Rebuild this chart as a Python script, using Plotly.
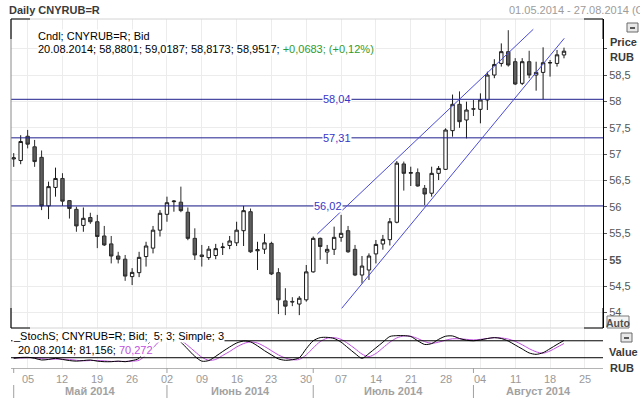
import plotly.graph_objects as go
import pandas as pd
import numpy as np

# ---------------- data ----------------
axis_dates = pd.bdate_range("2014-05-01", "2014-08-27")   # trading-day axis 01.05 - 27.08
n_data = 80                                               # candles 01.05 - 20.08

open_ = [56.91, 56.88, 57.34, 57.14, 56.94, 56.02, 56.37, 56.54, 56.12, 55.955,
         55.65, 55.80, 55.72, 55.45, 55.30, 55.07, 55.01, 54.68, 54.755, 55.06,
         55.22, 55.56, 55.86, 56.10, 56.09, 55.90, 55.405, 55.09, 55.04, 55.08,
         55.23, 55.27, 55.32, 55.55, 55.91, 55.17, 55.20, 55.31, 54.755, 54.22,
         54.21, 54.16, 54.24, 54.77, 55.405, 55.146, 55.197, 55.424, 55.55, 55.197,
         54.71, 54.805, 55.11, 55.298, 55.38, 55.71, 56.815, 56.64, 56.65, 56.353,
         56.26, 56.637, 56.713, 57.446, 57.945, 57.648, 57.86, 57.85, 58.027, 58.50,
         58.72, 58.943, 58.753, 58.343, 58.753, 58.50, 58.55, 58.73, 58.72, 58.8801]
high = [57.02, 57.36, 57.46, 57.27, 57.07, 56.48, 56.745, 56.64, 56.13, 56.005,
        55.99, 55.89, 55.85, 55.64, 55.45, 55.15, 55.09, 54.84, 55.15, 55.34,
        55.64, 55.94, 56.195, 56.13, 56.385, 55.99, 55.595, 55.28, 55.26, 55.30,
        55.32, 55.45, 55.72, 56.02, 55.97, 55.34, 55.49, 55.34, 54.84, 54.46,
        54.29, 54.31, 54.90, 55.44, 55.42, 55.28, 55.627, 55.85, 55.64, 55.28,
        55.07, 55.12, 55.374, 55.47, 55.79, 56.87, 56.86, 56.763, 56.73, 56.416,
        56.763, 56.776, 57.49, 58.13, 58.19, 57.995, 58.027, 58.153, 58.564, 58.80,
        59.10, 59.35, 58.82, 58.82, 58.96, 58.753, 59.025, 58.785, 58.975, 59.0187]
low = [56.76, 56.81, 57.11, 56.76, 55.94, 55.77, 56.195, 56.02, 55.78, 55.53,
       55.53, 55.68, 55.22, 55.26, 54.93, 54.93, 54.60, 54.52, 54.67, 54.87,
       55.12, 55.44, 55.72, 55.91, 55.90, 55.37, 54.995, 54.87, 54.995, 55.01,
       55.09, 55.20, 55.26, 55.26, 55.13, 54.805, 55.11, 54.71, 53.97, 53.95,
       54.12, 53.95, 54.205, 54.755, 55.00, 54.92, 55.09, 55.34, 55.13, 54.69,
       54.55, 54.616, 54.93, 55.19, 55.27, 55.69, 56.31, 56.397, 56.385, 56.037,
       56.195, 56.51, 56.70, 57.332, 57.50, 57.30, 57.724, 57.585, 57.837, 58.44,
       58.66, 58.66, 58.31, 58.31, 58.44, 58.204, 58.04, 58.47, 58.66, 58.8173]
close = [56.93, 57.24, 57.19, 56.86, 56.02, 56.385, 56.54, 56.11, 55.97, 55.64,
         55.785, 55.72, 55.44, 55.28, 55.07, 55.01, 54.69, 54.76, 55.045, 55.26,
         55.56, 55.88, 56.08, 56.11, 55.93, 55.405, 55.09, 55.06, 55.20, 55.21,
         55.24, 55.355, 55.56, 55.93, 55.15, 55.19, 55.32, 54.73, 54.24, 54.12,
         54.20, 54.27, 54.77, 55.405, 55.25, 55.197, 55.424, 55.50, 55.15, 54.71,
         54.88, 55.07, 55.29, 55.386, 55.72, 56.83, 56.637, 56.65, 56.397, 56.245,
         56.637, 56.73, 57.458, 57.945, 57.616, 57.837, 57.855, 58.027, 58.50, 58.70,
         58.943, 58.69, 58.33, 58.753, 58.50, 58.55, 58.734, 58.735, 58.8834, 58.9517]

stoch_k = [18, 21, 22, 18, 12, 14, 18, 14, 10, 8, 10, 12, 8, 6, 6, 8, 6, 10, 18,
           60, 85, 95, 97, 93, 75, 50, 25, 8,
           10, 25, 42, 58, 72, 79, 76, 62, 45, 30, 16, 11, 13, 20,
           52, 80, 91, 92, 88, 75, 55, 35, 18,
           35, 55, 75, 95, 98, 98, 95, 80, 67, 70,
           85, 96, 97, 88, 82, 80, 83, 88, 91, 88,
           79, 65, 51, 37, 32, 38, 52, 67, 81.156]
stoch_d = [20, 19, 20, 20, 17, 15, 15, 15, 14, 11, 9, 10, 10, 9, 7, 7, 7, 8, 11,
           30, 55, 80, 92, 95, 82, 63, 42, 22,
           11, 14, 28, 42, 58, 70, 76, 72, 60, 45, 30, 19, 13, 14,
           30, 55, 77, 89, 91, 85, 70, 52, 33,
           24, 35, 55, 75, 90, 97, 96, 88, 77, 71,
           75, 82, 87, 87, 85, 83, 85, 88, 91, 90,
           86, 78, 66, 52, 41, 36, 44, 57, 70.272]
stoch_levels = [80, 20]

levels = [58.04, 57.31, 56.02]
# drawn channel lines: (trading-day index, price) endpoints
channel_upper = [(43.58, 55.487), (74.59, 59.367)]
channel_lower = [(47.09, 54.079), (79.04, 59.196)]

price_ticks = [54, 54.5, 55, 55.5, 56, 56.5, 57, 57.5, 58, 58.5, 59]
month_names = ["Май 2014", "Июнь 2014", "Июль 2014", "Август 2014"]

# ---------------- geometry ----------------
W, H = 640, 398
ML, MR, MT, MB = 11, 37, 19, 30
XR = [-0.39, 84.6]
YR = [53.706, 59.562]
SR = [-16.3, 121.6]


def px(x):
    return (x - ML) / (W - ML - MR)


def py(y):
    return (H - MB - y) / (H - MT - MB)


def xi(i):
    return (i - XR[0]) / (XR[1] - XR[0])


idx = np.arange(n_data)
mondays = [i for i, d in enumerate(axis_dates) if d.weekday() == 0]
monday_txt = [axis_dates[i].strftime("%d") for i in mondays]
month_start = [i for i, d in enumerate(axis_dates) if i == 0 or d.month != axis_dates[i - 1].month]

FONT = "Liberation Sans, Arial, sans-serif"


def fmt(v, nd):
    return f"{v:.{nd}f}".replace(".", ",")


def tick_text(v):
    if v == 59:
        return ""
    s = fmt(v, 1).replace(",0", "")
    return "<b>55</b>" if v == 55 else s


fig = go.Figure()
fig.add_trace(go.Candlestick(
    x=idx, open=open_[:n_data], high=high[:n_data], low=low[:n_data], close=close[:n_data],
    increasing=dict(line=dict(color="#1a1a1a", width=1), fillcolor="#ffffff"),
    decreasing=dict(line=dict(color="#2c2c2c", width=1), fillcolor="#5e5e5e"),
    whiskerwidth=0, showlegend=False, hoverinfo="skip", xaxis="x", yaxis="y"))

fig.add_trace(go.Scatter(x=idx, y=stoch_d, mode="lines", xaxis="x2", yaxis="y2",
                         line=dict(color="#c050e0", width=1, shape="spline", smoothing=0.8),
                         showlegend=False, hoverinfo="skip"))
fig.add_trace(go.Scatter(x=idx, y=stoch_k, mode="lines", xaxis="x2", yaxis="y2",
                         line=dict(color="#000000", width=1, shape="spline", smoothing=0.8),
                         showlegend=False, hoverinfo="skip"))

shapes = []
for lv in levels:
    shapes.append(dict(type="line", xref="x", yref="y", x0=XR[0], x1=XR[1], y0=lv, y1=lv,
                       line=dict(color="#1e1e8e", width=1)))
for ch in (channel_upper, channel_lower):
    shapes.append(dict(type="line", xref="x", yref="y", x0=ch[0][0], y0=ch[0][1],
                       x1=ch[1][0], y1=ch[1][1], line=dict(color="#4a4ad8", width=1)))
for lv in stoch_levels:
    shapes.append(dict(type="line", xref="x2", yref="y2", x0=XR[0], x1=XR[1], y0=lv, y1=lv,
                       line=dict(color="#000000", width=1)))

ytop, ybot = 1.0, py(328)
gray = "#8a8a8a"
# panel frame
shapes += [
    dict(type="line", xref="paper", yref="paper", x0=0, x1=0, y0=ybot, y1=ytop, line=dict(color=gray, width=1)),
    dict(type="line", xref="paper", yref="paper", x0=0, x1=1, y0=ytop, y1=ytop, line=dict(color="#d4d4d4", width=1)),
    dict(type="line", xref="paper", yref="paper", x0=0, x1=1, y0=ybot, y1=ybot, line=dict(color="#d4d4d4", width=1)),
]
# corner brackets
bx = px(30) - px(11)
by = py(19) - py(39)
for (x0, y0, sx, sy) in [(0, ytop, 1, -1), (0, ybot, 1, 1), (1, ytop, -1, -1), (1, ybot, -1, 1)]:
    shapes.append(dict(type="line", xref="paper", yref="paper", x0=x0, x1=x0 + sx * bx, y0=y0, y1=y0,
                       line=dict(color="#000000", width=1)))
    shapes.append(dict(type="line", xref="paper", yref="paper", x0=x0, x1=x0, y0=y0, y1=y0 + sy * by,
                       line=dict(color="#000000", width=1)))
# month separators under the axis
for i in month_start:
    shapes.append(dict(type="line", xref="paper", yref="paper", x0=xi(i), x1=xi(i), y0=py(368), y1=py(373),
                       line=dict(color="#a0a0a0", width=1)))
    shapes.append(dict(type="line", xref="paper", yref="paper", x0=xi(i), x1=xi(i), y0=py(385), y1=py(398),
                       line=dict(color="#a0a0a0", width=1)))
# Auto box and small icons
shapes.append(dict(type="rect", xref="paper", yref="paper", x0=px(607), x1=px(629), y0=py(328), y1=py(316),
                   line=dict(color="#7a7a7a", width=1), fillcolor="#f4f4f4"))
for (ix, iy) in [(627, 23), (621, 333)]:
    shapes.append(dict(type="rect", xref="paper", yref="paper", x0=px(ix), x1=px(ix + 11), y0=py(iy + 9), y1=py(iy),
                       line=dict(color="#6a6a6a", width=1), fillcolor="#e8e8e8"))
    shapes.append(dict(type="line", xref="paper", yref="paper", x0=px(ix + 3), x1=px(ix + 8), y0=py(iy + 5), y1=py(iy + 5),
                       line=dict(color="#5a5a5a", width=2)))

ann = []


def A(text, x, y, size=11, color="#000000", xanchor="left", bg=None, bold=False):
    d = dict(text=f"<b>{text}</b>" if bold else text, x=px(x), y=py(y), xref="paper", yref="paper",
             xanchor=xanchor, yanchor="middle", showarrow=False,
             font=dict(family=FONT, size=size, color=color))
    if bg:
        d["bgcolor"] = bg
        d["borderpad"] = 0
    ann.append(d)


last = n_data - 1
chg = close[last] - close[last - 1]
pct = chg / close[last - 1] * 100
date_s = axis_dates[last].strftime("%d.%m.%Y")
A("Daily CNYRUB=R", 7, 10, color="#3a3a3a", bold=True)
A("01.05.2014 - 27.08.2014 (GMT)", 507, 10, color="#9c9c9c")
A("Cndl; CNYRUB=R; Bid", 37, 36, bg="#ffffff")
line2 = (f"{date_s}; {fmt(open_[last], 4)}; {fmt(high[last], 4)}; {fmt(low[last], 4)}; {fmt(close[last], 4)}; "
         f"<span style='color:#2f9a2f'>{'+' if chg >= 0 else ''}{fmt(chg, 4)}; ({'+' if pct >= 0 else ''}{fmt(pct, 2)}%)</span>")
A(line2, 37, 49, bg="#ffffff")
A("Price", 608, 42, color="#3a3a3a", bold=True)
A("RUB", 608, 57, color="#3a3a3a", bold=True)
A("Auto", 618, 322.5, size=10.5, color="#505050", bold=True, xanchor="center")
A("Value", 607, 352, color="#3a3a3a", bold=True)
A("RUB", 608, 368, color="#3a3a3a", bold=True)
A("_StochS; CNYRUB=R; Bid;&nbsp; 5; 3; Simple; 3", 12, 335.5, bg="#ffffff")
A(f"{date_s}; {fmt(stoch_k[last], 3)}; <span style='color:#c050e0'>{fmt(stoch_d[last], 3)}</span>", 17, 350, bg="#ffffff")

label_px = [337, 337, 328]
for lv, lx in zip(levels, label_px):
    ann.append(dict(text=fmt(lv, 2), x=px(lx), xref="paper", y=lv, yref="y", showarrow=False,
                    xanchor="center", yanchor="middle", bgcolor="#ffffff", borderpad=0,
                    font=dict(family=FONT, size=11, color="#3535c8")))

# day labels under the axis (Mondays)
for i, t in zip(mondays, monday_txt):
    ann.append(dict(text=t, x=xi(i), y=py(379), xref="paper", yref="paper", showarrow=False,
                    xanchor="center", yanchor="middle",
                    font=dict(family=FONT, size=11, color="#9a9a9a")))

bounds = month_start + [XR[1]]
for k, name in enumerate(month_names):
    mid = (bounds[k] + bounds[k + 1]) / 2
    ann.append(dict(text=f"<b>{name}</b>", x=xi(mid), y=py(391), xref="paper", yref="paper",
                    showarrow=False, xanchor="center", yanchor="middle",
                    font=dict(family=FONT, size=11, color="#a2a2a2")))

fig.update_layout(
    width=W, height=H, autosize=False,
    margin=dict(l=ML, r=MR, t=MT, b=MB, pad=0),
    paper_bgcolor="#ffffff", plot_bgcolor="#ffffff",
    font=dict(family=FONT, size=11, color="#555555"),
    showlegend=False, hovermode=False, dragmode=False,
    xaxis=dict(domain=[0, 1], range=XR, anchor="y", showticklabels=False, tickvals=mondays,
               showgrid=True, gridcolor="#ececec", gridwidth=1, zeroline=False, showline=False,
               rangeslider=dict(visible=False), fixedrange=True, automargin=False),
    xaxis2=dict(domain=[0, 1], range=XR, anchor="y2", matches="x", tickvals=mondays,
                showticklabels=False, ticks="",
                showgrid=True, gridcolor="#ececec", zeroline=False,
                showline=True, linecolor="#b4b4b4", linewidth=1, automargin=False),
    yaxis=dict(domain=[py(328), 1], range=YR, anchor="x", side="right",
               tickvals=price_ticks, ticktext=[tick_text(v) for v in price_ticks],
               ticks="outside", ticklen=3, tickcolor="#555555",
               tickfont=dict(family=FONT, size=11, color="#555555"),
               showgrid=True, gridcolor="#ececec", zeroline=False,
               showline=True, linecolor="#000000", linewidth=1, automargin=False),
    yaxis2=dict(domain=[0, py(329)], range=SR, anchor="x2", side="right", showticklabels=False,
                showgrid=False, zeroline=False, showline=False, ticks="", automargin=False),
    shapes=shapes, annotations=ann,
)

fig.write_html("out.html", config={"displayModeBar": False, "staticPlot": True},
               post_script="document.body.style.margin='0px';document.body.style.overflow='hidden';")
